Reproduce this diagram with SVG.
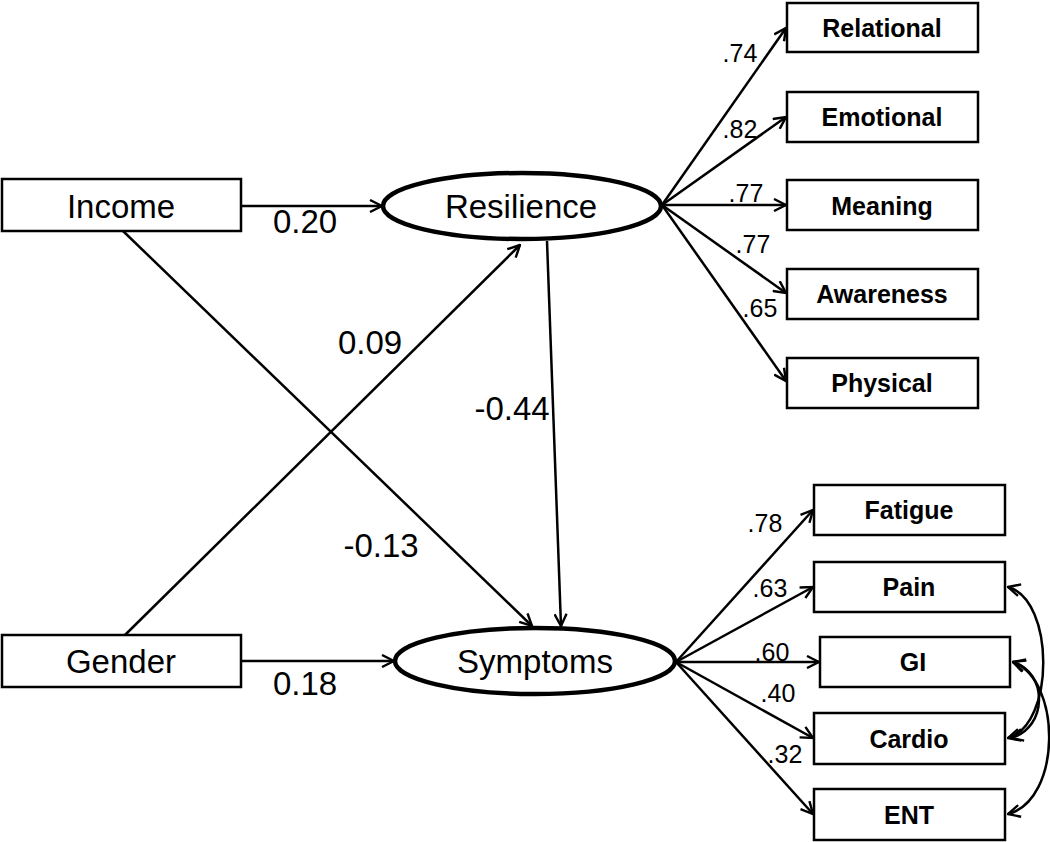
<svg xmlns="http://www.w3.org/2000/svg" width="1050" height="842" viewBox="0 0 1050 842">
<style>
.box{fill:#fff;stroke:#000;stroke-width:2.5}
.lat{fill:#fff;stroke:#000;stroke-width:4.5}
.big{font-family:"Liberation Sans",Arial,sans-serif;font-size:33px;fill:#000;text-anchor:middle}
.ind{font-family:"Liberation Sans",Arial,sans-serif;font-size:25px;font-weight:bold;fill:#000;text-anchor:middle}
.coef{font-family:"Liberation Sans",Arial,sans-serif;font-size:33px;fill:#000;text-anchor:middle}
.ld{font-family:"Liberation Sans",Arial,sans-serif;font-size:25px;fill:#000;text-anchor:middle}
.c{fill:none;stroke:#000;stroke-width:2.5}
</style>
<defs>
<marker id="ah" viewBox="0 0 14 14" refX="13" refY="7" markerWidth="14" markerHeight="14" markerUnits="userSpaceOnUse" orient="auto-start-reverse">
<path d="M1,1 L13,7 L1,13" fill="none" stroke="#000" stroke-width="2.4"/>
</marker>
</defs>
<g id="connectors">
<line class="c" x1="241" y1="206" x2="382" y2="206" marker-end="url(#ah)"/>
<line class="c" x1="241" y1="661" x2="394" y2="661" marker-end="url(#ah)"/>
<line class="c" x1="123" y1="231" x2="532" y2="626" marker-end="url(#ah)"/>
<line class="c" x1="125" y1="635" x2="520" y2="245" marker-end="url(#ah)"/>
<line class="c" x1="547" y1="241" x2="561" y2="626" marker-end="url(#ah)"/>
<line class="c" x1="662" y1="205" x2="786" y2="28" marker-end="url(#ah)"/>
<line class="c" x1="662" y1="205" x2="786" y2="117" marker-end="url(#ah)"/>
<line class="c" x1="662" y1="205" x2="786" y2="205" marker-end="url(#ah)"/>
<line class="c" x1="662" y1="205" x2="786" y2="293" marker-end="url(#ah)"/>
<line class="c" x1="662" y1="205" x2="786" y2="381" marker-end="url(#ah)"/>
<line class="c" x1="676" y1="662" x2="813" y2="510" marker-end="url(#ah)"/>
<line class="c" x1="676" y1="662" x2="813" y2="587" marker-end="url(#ah)"/>
<line class="c" x1="676" y1="662" x2="819" y2="662" marker-end="url(#ah)"/>
<line class="c" x1="676" y1="662" x2="813" y2="738" marker-end="url(#ah)"/>
<line class="c" x1="676" y1="662" x2="813" y2="814" marker-end="url(#ah)"/>
<path class="c" d="M1008,587 C1055,600 1055,725 1008,738" marker-start="url(#ah)" marker-end="url(#ah)"/>
<path class="c" d="M1013,662 C1048,672 1048,728 1011,738" marker-start="url(#ah)" marker-end="url(#ah)"/>
<path class="c" d="M1013,662 C1062,680 1062,800 1008,814" marker-start="url(#ah)" marker-end="url(#ah)"/>
<text class="coef" x="305" y="233">0.20</text>
<text class="coef" x="305" y="695">0.18</text>
<text class="coef" x="370" y="354">0.09</text>
<text class="coef" x="512" y="420">-0.44</text>
<text class="coef" x="381" y="557">-0.13</text>
<text class="ld" x="740" y="62">.74</text>
<text class="ld" x="740" y="138">.82</text>
<text class="ld" x="746" y="202">.77</text>
<text class="ld" x="753" y="253">.77</text>
<text class="ld" x="760" y="317">.65</text>
<text class="ld" x="765" y="532">.78</text>
<text class="ld" x="770" y="597">.63</text>
<text class="ld" x="772" y="661">.60</text>
<text class="ld" x="778" y="702">.40</text>
<text class="ld" x="785" y="763">.32</text>
</g>
<g id="income"><rect class="box" x="2" y="179" width="239" height="52"/><text class="big" x="121" y="218">Income</text></g>
<g id="gender"><rect class="box" x="2" y="635" width="239" height="52"/><text class="big" x="121" y="673">Gender</text></g>
<g id="resilience"><ellipse class="lat" cx="522" cy="206" rx="139" ry="33"/><text class="big" x="521" y="218">Resilience</text></g>
<g id="symptoms"><ellipse class="lat" cx="535" cy="661" rx="140" ry="33"/><text class="big" x="535" y="673">Symptoms</text></g>
<g id="relational"><rect class="box" x="787" y="3" width="191" height="49"/><text class="ind" x="882" y="37">Relational</text></g>
<g id="emotional"><rect class="box" x="787" y="92" width="191" height="50"/><text class="ind" x="882" y="126">Emotional</text></g>
<g id="meaning"><rect class="box" x="787" y="180" width="191" height="50"/><text class="ind" x="882" y="215">Meaning</text></g>
<g id="awareness"><rect class="box" x="787" y="269" width="191" height="50"/><text class="ind" x="882" y="303">Awareness</text></g>
<g id="physical"><rect class="box" x="787" y="358" width="191" height="50"/><text class="ind" x="882" y="392">Physical</text></g>
<g id="fatigue"><rect class="box" x="814" y="485" width="191" height="50"/><text class="ind" x="909" y="519">Fatigue</text></g>
<g id="pain"><rect class="box" x="814" y="562" width="191" height="50"/><text class="ind" x="909" y="596">Pain</text></g>
<g id="gi"><rect class="box" x="820" y="637" width="190" height="50"/><text class="ind" x="913" y="671">GI</text></g>
<g id="cardio"><rect class="box" x="814" y="713" width="191" height="51"/><text class="ind" x="909" y="748">Cardio</text></g>
<g id="ent"><rect class="box" x="814" y="789" width="191" height="51"/><text class="ind" x="909" y="824">ENT</text></g>
</svg>
